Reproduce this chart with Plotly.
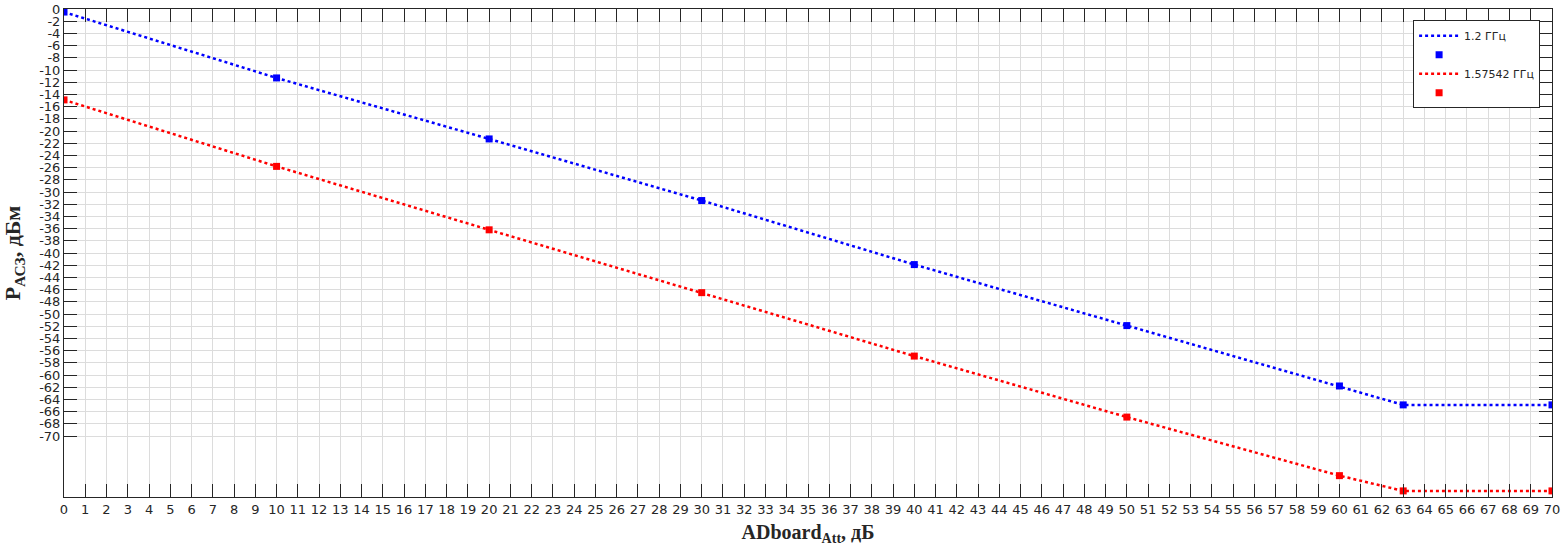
import plotly.graph_objects as go

# attenuation settings, dB
att = [0, 10, 20, 30, 40, 50, 60, 63, 70]

# measured power, dBm
p_1200 = [-0.5, -11.3, -21.3, -31.4, -41.9, -51.9, -61.8, -64.9, -64.9]
p_1575 = [-14.9, -25.8, -36.2, -46.5, -56.9, -66.9, -76.5, -79.0, -79.0]

series = [
    ("1.2 ГГц", p_1200, "#0000ff"),
    ("1.57542 ГГц", p_1575, "#ff0000"),
]

x_ticks = list(range(0, 71))
y_ticks = list(range(0, -71, -2))

fig = go.Figure()
for name, vals, color in series:
    # MATLAB-style legend: line entry and marker entry shown separately
    fig.add_trace(go.Scatter(
        x=att, y=vals, mode="lines", name=name,
        line=dict(color=color, width=2.5, dash="dot"),
    ))
    fig.add_trace(go.Scatter(
        x=att, y=vals, mode="markers", name=" ",
        marker=dict(color=color, symbol="square", size=7),
    ))

axis_common = dict(
    showline=True, linecolor="#262626", linewidth=1, mirror="ticks",
    ticks="inside", ticklen=13, tickcolor="#262626", tickwidth=1,
    showgrid=True, gridcolor="#dcdcdc", gridwidth=1, zeroline=False,
    tickfont=dict(family="DejaVu Sans", size=13, color="#262626"),
    automargin=False,
)

fig.update_xaxes(
    range=[0, 70], tickvals=x_ticks, ticktext=[str(v) for v in x_ticks],
    title=dict(text="<b>ADboard<sub>Att</sub>, дБ</b>",
               font=dict(family="Liberation Serif", size=20, color="#262626"),
               standoff=9),
    **axis_common,
)
fig.update_yaxes(
    range=[-80, 0], tickvals=y_ticks, ticktext=[str(v) for v in y_ticks],
    title=dict(text="<b>P<sub>АСЗ</sub>, дБм</b>",
               font=dict(family="Liberation Serif", size=22, color="#262626"),
               standoff=14),
    **axis_common,
)

fig.update_layout(
    width=1565, height=557,
    margin=dict(l=64, r=13, t=9, b=60),
    plot_bgcolor="white", paper_bgcolor="white",
    showlegend=True,
    legend=dict(
        x=0.992, y=0.977, xanchor="right", yanchor="top",
        bgcolor="white", bordercolor="#262626", borderwidth=1,
        font=dict(family="DejaVu Sans", size=11, color="#262626"),
        tracegroupgap=0, itemwidth=40,
    ),
)

# drop the default 8px body margin so the figure fills the window
fig.write_html(
    "out.html",
    config={"displayModeBar": False},
    post_script="document.body.style.margin = '0';",
)
